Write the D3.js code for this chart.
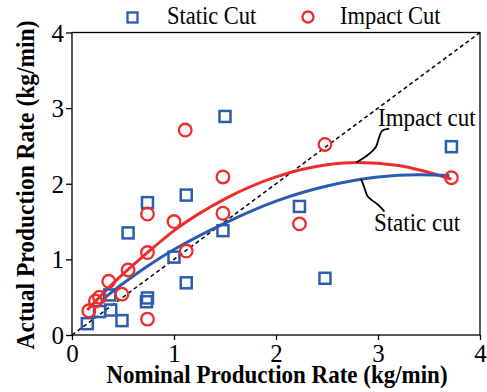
<!DOCTYPE html>
<html>
<head>
<meta charset="utf-8">
<style>
  body { margin: 0; background: #fff; }
</style>
</head>
<body>
<div id="chart"></div>
<script src="https://cdn.jsdelivr.net/npm/d3@7/dist/d3.min.js"></script>
<script>
// measured points
var staticX = [0.15, 0.27, 0.37, 0.38, 0.49, 0.55, 0.73, 0.74, 0.74, 1.0, 1.12, 1.12, 1.48, 1.50, 2.23, 2.48, 3.72];
var staticY = [0.15, 0.31, 0.53, 0.33, 0.19, 1.35, 0.44, 0.49, 1.75, 1.03, 0.69, 1.85, 1.38, 2.89, 1.70, 0.75, 2.49];

var impactX = [0.165, 0.23, 0.27, 0.36, 0.49, 0.55, 0.74, 0.74, 0.74, 1.0, 1.12, 1.11, 1.48, 1.48, 2.23, 2.48, 3.72];
var impactY = [0.32, 0.45, 0.50, 0.71, 0.54, 0.86, 1.09, 1.60, 0.21, 1.50, 1.11, 2.71, 1.61, 2.09, 1.47, 2.52, 2.08];

// fitted curves
var staticFitX = [0.30, 0.5, 0.75, 1.0, 1.5, 2.0, 2.5, 3.0, 3.4, 3.70];
var staticFitY = [0.47, 0.68, 0.92, 1.13, 1.48, 1.77, 1.97, 2.09, 2.12, 2.11];
var impactFitX = [0.15, 0.4, 0.74, 1.0, 1.5, 2.0, 2.5, 2.8, 3.2, 3.72];
var impactFitY = [0.33, 0.68, 1.09, 1.38, 1.80, 2.09, 2.25, 2.28, 2.24, 2.06];

// callout leaders
var impactLeader = [[2.786, 2.282], [2.90, 2.38], [2.98, 2.49], [3.01, 2.61], [3.04, 2.70], [3.11, 2.73]];
var staticLeader = [[2.835, 2.062], [2.868, 1.943], [2.90, 1.832], [3.0, 1.722], [3.064, 1.633]];

var ticks = [0, 1, 2, 3, 4];

var blue = '#2a5db0', red = '#ee2c2c';
var serif = 'Liberation Serif';
var W = 487, H = 392;
var m = {l: 72, r: 7, t: 32.5, b: 57};

var svg = d3.select('#chart').append('svg').attr('width', W).attr('height', H)
  .attr('font-family', serif);

var x = d3.scaleLinear().domain([0, 4]).range([m.l, W - m.r]);
var y = d3.scaleLinear().domain([0, 4]).range([H - m.b, m.t]);

// text a bit taller than wide, like the original
function label(px, py, size, str, opt) {
  opt = opt || {};
  return svg.append('text')
    .attr('transform', 'translate(' + px + ',' + py + ')' + (opt.rot ? ' rotate(' + opt.rot + ')' : '') +
      ' scale(1,' + (opt.sy || 1.13) + ')')
    .attr('font-size', size)
    .attr('font-family', serif)
    .attr('font-weight', opt.bold ? 'bold' : null)
    .attr('text-anchor', opt.anchor || 'start')
    .text(str);
}

// frame
svg.append('rect')
  .attr('x', x(0)).attr('y', y(4))
  .attr('width', x(4) - x(0)).attr('height', y(0) - y(4))
  .attr('fill', 'none').attr('stroke', '#000').attr('stroke-width', 1.3);

var xa = svg.append('g').attr('transform', 'translate(0,' + y(0) + ')')
  .call(d3.axisBottom(x).tickValues(ticks).tickSize(5).tickFormat(d3.format('d')));
var ya = svg.append('g').attr('transform', 'translate(' + x(0) + ',0)')
  .call(d3.axisLeft(y).tickValues(ticks).tickSize(6).tickPadding(2).tickFormat(d3.format('d')));
[xa, ya].forEach(function (g) {
  g.attr('font-family', serif).attr('font-size', 25);
  g.select('.domain').remove();
  g.selectAll('line').attr('stroke', '#000').attr('stroke-width', 1.3);
  g.selectAll('text').attr('fill', '#000');
});
xa.selectAll('text').attr('y', 27).attr('dy', 0);
ya.selectAll('text').attr('dy', '0.34em');

// diagonal
svg.append('line')
  .attr('x1', x(0)).attr('y1', y(0)).attr('x2', x(4)).attr('y2', y(4))
  .attr('stroke', '#000').attr('stroke-width', 1.5).attr('stroke-dasharray', '4,3');

var line = d3.line().x(function (d) { return x(d[0]); }).y(function (d) { return y(d[1]); })
  .curve(d3.curveMonotoneX);

svg.append('path').datum(d3.zip(impactFitX, impactFitY)).attr('d', line)
  .attr('fill', 'none').attr('stroke', red).attr('stroke-width', 3);
svg.append('path').datum(d3.zip(staticFitX, staticFitY)).attr('d', line)
  .attr('fill', 'none').attr('stroke', blue).attr('stroke-width', 3);

// points
var sq = 11;
svg.append('g').selectAll('rect').data(d3.zip(staticX, staticY)).enter().append('rect')
  .attr('x', function (d) { return x(d[0]) - sq / 2; })
  .attr('y', function (d) { return y(d[1]) - sq / 2; })
  .attr('width', sq).attr('height', sq)
  .attr('fill', 'none').attr('stroke', blue).attr('stroke-width', 2.5);

svg.append('g').selectAll('circle').data(d3.zip(impactX, impactY)).enter().append('circle')
  .attr('cx', function (d) { return x(d[0]); })
  .attr('cy', function (d) { return y(d[1]); })
  .attr('r', 6.3)
  .attr('fill', 'none').attr('stroke', red).attr('stroke-width', 2.3);

// callouts
var lead = d3.line().x(function (d) { return x(d[0]); }).y(function (d) { return y(d[1]); })
  .curve(d3.curveCatmullRom);
[impactLeader, staticLeader].forEach(function (p) {
  svg.append('path').datum(p).attr('d', lead)
    .attr('fill', 'none').attr('stroke', '#000').attr('stroke-width', 1.8);
});
label(x(3.0), y(2.76), 23, 'Impact cut');
label(x(2.96), y(1.38), 23, 'Static cut');

// legend
svg.append('rect').attr('x', 127.5).attr('y', 12.5).attr('width', 10).attr('height', 10)
  .attr('fill', 'none').attr('stroke', blue).attr('stroke-width', 2.3);
label(167, 24, 22.5, 'Static Cut');
svg.append('circle').attr('cx', 308).attr('cy', 17).attr('r', 5.5)
  .attr('fill', 'none').attr('stroke', red).attr('stroke-width', 2.3);
label(340, 24, 22.5, 'Impact Cut');

// axis titles
label(277, 383, 23, 'Nominal Production Rate (kg/min)', {bold: true, anchor: 'middle', sy: 1.1});
label(33.5, 185, 23.5, 'Actual Production Rate (kg/min)', {bold: true, anchor: 'middle', rot: -90, sy: 1.1});
</script>
</body>
</html>
